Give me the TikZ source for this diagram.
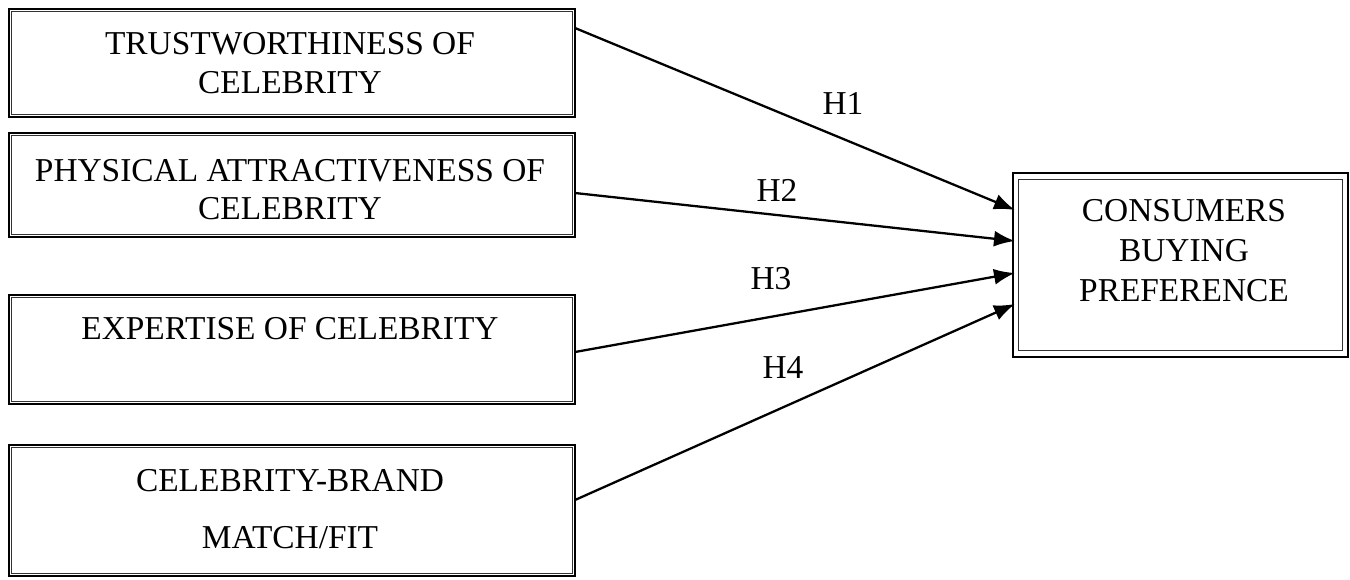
\documentclass[tikz,border=0pt]{standalone}
\usepackage[svgnames]{xcolor}
\usepackage{fontspec}
\setmainfont{Liberation Serif}
\usepackage{tikz}
\usetikzlibrary{arrows.meta}
\tikzstyle{none}=[inner sep=0pt]
\tikzstyle{frame}=[draw=Black, line width=1.4pt, inner sep=0pt]
\tikzstyle{inner}=[draw=Black!80, line width=0.7pt]
\tikzstyle{words}=[inner sep=0pt, text height=12.6pt, text depth=0pt, font=\fontsize{19}{23}\selectfont]
\tikzstyle{simple}=[-{Latex[length=0.42cm,width=0.32cm]}, draw=Black, line width=1.3pt]

\begin{document}
\begin{tikzpicture}[x=0.02cm, y=-0.02cm]
  \useasboundingbox (0, 0) rectangle (1350, 579);
  \node [style=frame, minimum width=11.32cm, minimum height=2.16cm] (0) at (292, 63) {};
  \node [style=frame, minimum width=11.32cm, minimum height=2.08cm] (1) at (292, 185) {};
  \node [style=frame, minimum width=11.32cm, minimum height=2.18cm] (2) at (292, 349.5) {};
  \node [style=frame, minimum width=11.32cm, minimum height=2.62cm] (3) at (292, 510.5) {};
  \node [style=frame, minimum width=6.7cm, minimum height=3.68cm] (4) at (1180.5, 265) {};
  \node [style=words] (5) at (290, 43) {TRUSTWORTHINESS OF};
  \node [style=words] (6) at (290, 82) {CELEBRITY};
  \node [style=words] (7) at (290, 170) {PHYSICAL ATTRACTIVENESS OF};
  \node [style=words] (8) at (290, 208) {CELEBRITY};
  \node [style=words] (9) at (290, 328) {EXPERTISE OF CELEBRITY};
  \node [style=words] (10) at (290, 480) {CELEBRITY-BRAND};
  \node [style=words] (11) at (290, 537) {MATCH/FIT};
  \node [style=words] (12) at (1184, 210) {CONSUMERS};
  \node [style=words] (13) at (1184, 250) {BUYING};
  \node [style=words] (14) at (1184, 290) {PREFERENCE};
  \node [style=words] (15) at (843, 103) {H1};
  \node [style=words] (16) at (777, 190) {H2};
  \node [style=words] (17) at (771, 278) {H3};
  \node [style=words] (18) at (783, 367) {H4};
  \node [style=none] (20) at (575, 28) {};
  \node [style=none] (21) at (1015, 210) {};
  \node [style=none] (22) at (575, 193) {};
  \node [style=none] (23) at (1015, 241) {};
  \node [style=none] (24) at (575, 352) {};
  \node [style=none] (25) at (1015, 273) {};
  \node [style=none] (26) at (575, 500) {};
  \node [style=none] (27) at (1015, 304) {};
  \foreach \n in {0,1,2,3}
    \draw [style=inner] ([shift={(4,4)}]\n.north west) rectangle ([shift={(-4,-4)}]\n.south east);
  \draw [style=inner] ([shift={(7,8)}]4.north west) rectangle ([shift={(-7,-8)}]4.south east);
  \draw [style=simple] (20.center) to (21.center);
  \draw [style=simple] (22.center) to (23.center);
  \draw [style=simple] (24.center) to (25.center);
  \draw [style=simple] (26.center) to (27.center);
\end{tikzpicture}
\end{document}
